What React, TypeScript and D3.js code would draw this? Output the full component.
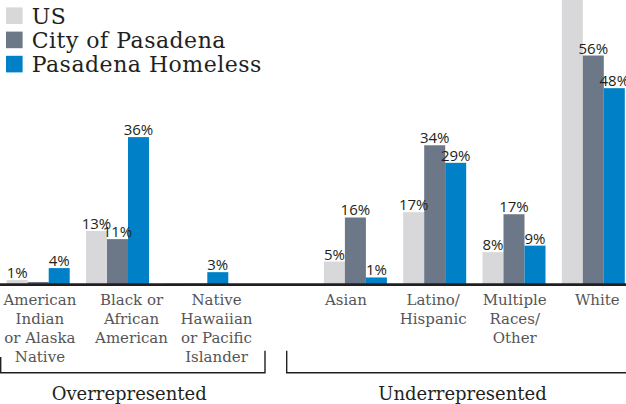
import React from "react";
import * as d3 from "d3";

const categories = ["AIAN", "Black", "NHPI", "gap", "Asian", "Latino", "Multiple", "White"];
const categoryLines: string[][] = [
  ["American", "Indian", "or Alaska", "Native"],
  ["Black or", "African", "American"],
  ["Native", "Hawaiian", "or Pacific", "Islander"],
  [],
  ["Asian"],
  ["Latino/", "Hispanic"],
  ["Multiple", "Races/", "Other"],
  ["White"],
];
const seriesNames = ["US", "City of Pasadena", "Pasadena Homeless"];
const usValues = [1.0, 13.0, 0.2, null, 5.5, 17.6, 7.8, 73];
const cityValues = [0.5, 11, 0.1, null, 16.3, 34, 17.1, 56];
const homelessValues = [3.9, 36, 2.9, null, 1.6, 29.7, 9.4, 48];
const usLabels = ["1%", "13%", "", "", "5%", "17%", "8%", ""];
const cityLabels = ["", "11%", "", "", "16%", "34%", "17%", "56%"];
const homelessLabels = ["4%", "36%", "3%", "", "1%", "29%", "9%", "48%"];
const groupNames = ["Overrepresented", "Underrepresented"];

// layout (not data)
const W = 626;
const H = 404;
const colors = ["#d8d7d9", "#6c7787", "#0080c6"];
const labelDx = [1.7, 14, 19.7, 0, -9.5, -1.5, 0.7, 4];
const serif = "'DejaVu Serif', serif";
const sans = "'Open Sans', 'DejaVu Sans', sans-serif";

export default function App() {
  const baseline = 284;
  const x = d3
    .scaleBand<string>()
    .domain(categories)
    .range([6.7, 624.8])
    .paddingInner(0.2055)
    .paddingOuter(0)
    .align(0);
  const xs = d3.scaleBand<number>().domain([0, 1, 2]).range([0, x.bandwidth()]).padding(0);
  const y = d3.scaleLinear().domain([0, 70]).range([baseline, baseline - 70 * 4.08]);

  const series = [usValues, cityValues, homelessValues];
  const labels = [usLabels, cityLabels, homelessLabels];

  return (
    <div style={{ position: "fixed", left: 0, top: 0 }}>
      <svg width={W} height={H} style={{ display: "block", overflow: "hidden", background: "#fff" }}>
        {/* bars */}
        {series.map((vals, si) =>
          vals.map((v, ci) =>
            v == null ? null : (
              <rect
                key={`b${si}-${ci}`}
                x={(x(categories[ci]) as number) + (xs(si) as number)}
                y={y(v)}
                width={xs.bandwidth()}
                height={baseline - y(v)}
                fill={colors[si]}
              />
            )
          )
        )}
        {/* value labels */}
        {series.map((vals, si) =>
          vals.map((v, ci) =>
            v == null || !labels[si][ci] ? null : (
              <text
                key={`l${si}-${ci}`}
                x={(x(categories[ci]) as number) + (xs(si) as number) + xs.bandwidth() / 2}
                y={y(v) - 2}
                textAnchor="middle"
                fontFamily={sans}
                fontSize={15}
                fill="#231f20"
              >
                {labels[si][ci]}
              </text>
            )
          )
        )}
        {/* axis line */}
        <line x1={0} x2={W} y1={284.7} y2={284.7} stroke="#231f20" strokeWidth={2.7} />
        {/* category labels */}
        {categoryLines.map((lines, ci) => (
          <text
            key={`c${ci}`}
            textAnchor="middle"
            fontFamily={serif}
            fontSize={15}
            fill="#555557"
          >
            {lines.map((ln, li) => (
              <tspan
                key={li}
                x={(x(categories[ci]) as number) + x.bandwidth() / 2 + labelDx[ci]}
                y={305 + li * 19}
              >
                {ln}
              </tspan>
            ))}
          </text>
        ))}
        {/* brackets */}
        <path d="M0.7,357 V372.8 H265 V350.7" fill="none" stroke="#231f20" strokeWidth={1.4} />
        <path d="M286.7,350.7 V372.8 H630" fill="none" stroke="#231f20" strokeWidth={1.4} />
        <text x={129.2} y={399.5} textAnchor="middle" fontFamily={serif} fontSize={18} fill="#231f20">
          {groupNames[0]}
        </text>
        <text x={462.5} y={399.5} textAnchor="middle" fontFamily={serif} fontSize={18} fill="#231f20">
          {groupNames[1]}
        </text>
        {/* legend */}
        {seriesNames.map((name, i) => (
          <g key={`lg${i}`} transform={`translate(6, ${7.4 + i * 24.2})`}>
            <rect x={0} y={0} width={16.6} height={16.6} fill={colors[i]} />
            <text x={25.7} y={16.6} fontFamily={serif} fontSize={22} letterSpacing={0.5} fill="#231f20">
              {name}
            </text>
          </g>
        ))}
      </svg>
    </div>
  );
}
